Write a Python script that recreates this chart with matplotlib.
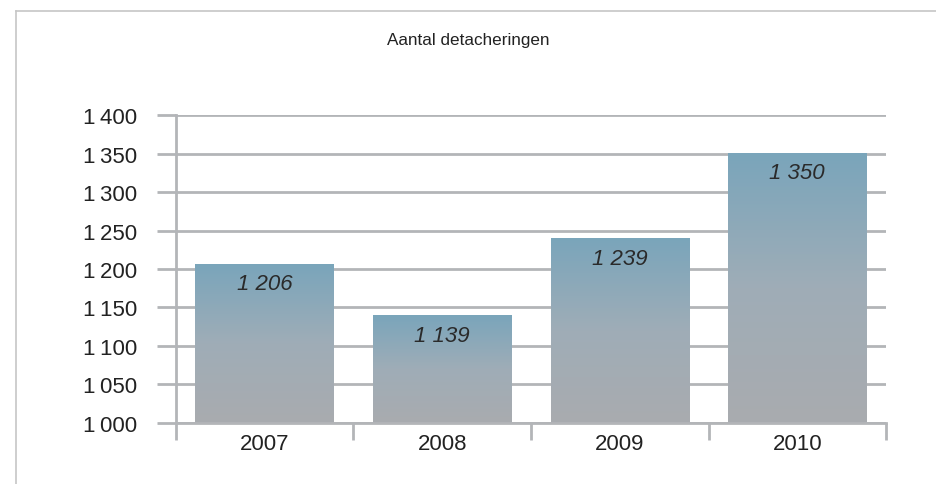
import numpy as np
import matplotlib.pyplot as plt
from matplotlib.colors import LinearSegmentedColormap
from matplotlib.lines import Line2D
from matplotlib.ticker import FuncFormatter

# gegevens
jaren = ["2007", "2008", "2009", "2010"]
detacheringen = [1206, 1139, 1239, 1350]
y_ticks = [1000, 1050, 1100, 1150, 1200, 1250, 1300, 1350, 1400]

plt.rcParams["font.family"] = ["Liberation Sans", "DejaVu Sans"]

grid_kleur = "#b3b5b8"
tekst_kleur = "#222222"
verloop = LinearSegmentedColormap.from_list("verloop", ["#a9abaf", "#9fadb7", "#7aa5bb"])

fig = plt.figure(figsize=(9.37, 4.85), dpi=100)
ax = fig.add_axes([0.1878, 0.1258, 0.7578, 0.635])

# kader rond de grafiek
fig.add_artist(Line2D([16 / 937, 1], [1 - 12 / 485] * 2, color="#c6c6c6", lw=1.2))
fig.add_artist(Line2D([16 / 937] * 2, [0, 1 - 12 / 485], color="#c6c6c6", lw=1.2))

fig.text(0.5, 1 - 40 / 485, "Aantal detacheringen", ha="center", va="center",
         fontsize=12.3, color=tekst_kleur)

x = np.arange(len(jaren))
breedte = 0.78
grad = np.linspace(0, 1, 256).reshape(-1, 1)
for xi, waarde in zip(x, detacheringen):
    ax.imshow(grad, cmap=verloop, origin="lower", aspect="auto",
              extent=[xi - breedte / 2, xi + breedte / 2, 1000, waarde], zorder=2)
    ax.text(xi, waarde - 25, f"{waarde // 1000} {waarde % 1000:03d}", ha="center",
            va="center", fontsize=16, style="italic", color="#2a2a2a", zorder=3)

ax.set_xlim(-0.5, len(jaren) - 0.5)
ax.set_ylim(1000, 1400)

ax.set_yticks(y_ticks)
ax.yaxis.set_major_formatter(FuncFormatter(lambda v, p: f"{int(v) // 1000}\u2009{int(v) % 1000:03d}"))
ax.yaxis.grid(True, color=grid_kleur, lw=2, zorder=0)
ax.set_axisbelow(True)

ax.set_xticks(x)
ax.set_xticklabels(jaren)
ax.set_xticks(np.arange(-0.5, len(jaren)), minor=True)
ax.tick_params(axis="x", which="major", length=0, pad=7, labelsize=16, labelcolor=tekst_kleur)
ax.tick_params(axis="x", which="minor", length=12, width=2, color=grid_kleur)
ax.tick_params(axis="y", length=14, width=2, color=grid_kleur, pad=14,
               labelsize=16, labelcolor=tekst_kleur)

for kant in ["top", "right"]:
    ax.spines[kant].set_visible(False)
for kant in ["left", "bottom"]:
    ax.spines[kant].set_color(grid_kleur)
    ax.spines[kant].set_linewidth(2)

fig.savefig("out.png", dpi=100, facecolor="white")
